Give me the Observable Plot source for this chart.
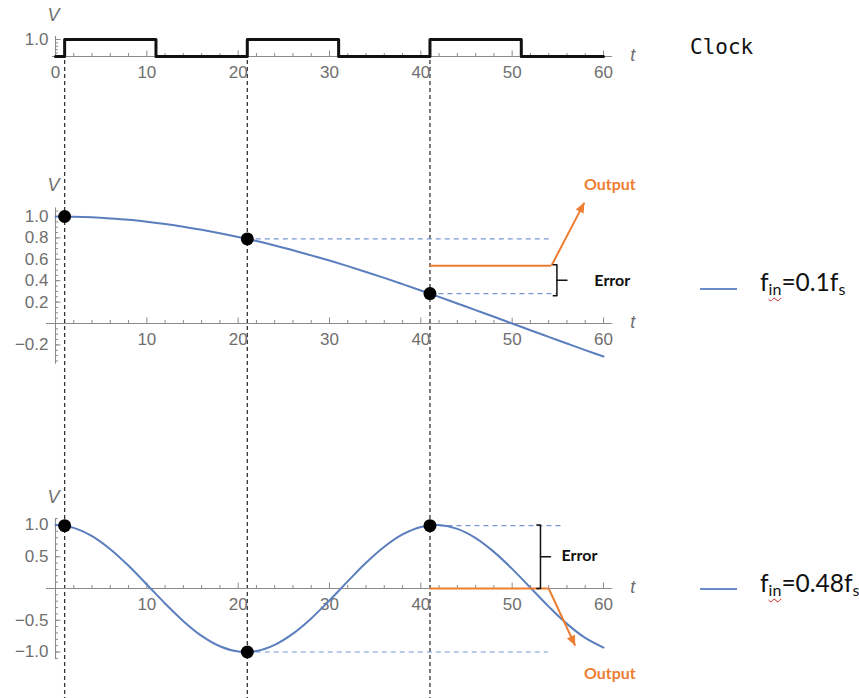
<!DOCTYPE html>
<html>
<head>
<meta charset="utf-8">
<script src="https://cdn.jsdelivr.net/npm/d3@7"></script>
<script src="https://cdn.jsdelivr.net/npm/@observablehq/plot@0.6"></script>
<style>
  body { margin: 0; background: #fff; }
  #chart { position: relative; width: 859px; height: 698px; overflow: hidden; background: #fff; }
  #chart svg { position: absolute; left: 0; top: 0; }
  .clock { position: absolute; left: 690px; top: 37px; font-family: "DejaVu Sans Mono", monospace; font-size: 21px; color: #111; line-height: 1; }
  .legend { position: absolute; left: 700px; width: 160px; height: 30px; }
  .legend .swatch { position: absolute; left: 0; width: 37px; border-top: 2.5px solid #6a8cc8; }
  .legend .label { position: absolute; left: 60px; top: 0; font-family: Lato, "Open Sans", sans-serif; font-size: 24.5px; line-height: 1; color: #111; white-space: nowrap; }
  .legend sub { font-size: 16px; vertical-align: -4px; line-height: 0; }
  .legend sub.sp { text-decoration: underline wavy #d02020; text-decoration-thickness: 1px; text-underline-offset: 2px; }
</style>
</head>
<body>
<div id="chart"></div>
<script>
// ---- data -------------------------------------------------------------
// Clock: level changes (step-after) over time t
const clockTimes  = [0, 1, 11, 21, 31, 41, 51, 60];
const clockLevels = [0, 1, 0, 1, 0, 1, 0, 0];

// Sampling instants (rising clock edges)
const sampleTimes = [1, 21, 41];

// Input waveforms read along t = 0..60
const curveTimes = [0, 2, 4, 6, 8, 10, 12, 14, 16, 18, 20, 22, 24, 26, 28, 30,
                    32, 34, 36, 38, 40, 42, 44, 46, 48, 50, 52, 54, 56, 58, 60];
const slowValues = [1.000, 0.998, 0.992, 0.982, 0.969, 0.951, 0.930, 0.905, 0.876, 0.844, 0.809,
                    0.771, 0.729, 0.685, 0.637, 0.588, 0.536, 0.482, 0.426, 0.368, 0.309,
                    0.249, 0.187, 0.125, 0.063, 0.000, -0.063, -0.125, -0.187, -0.249, -0.309];
const fastValues = [1.000, 0.955, 0.824, 0.618, 0.357, 0.063, -0.237, -0.514, -0.746, -0.910, -0.992,
                    -0.985, -0.888, -0.711, -0.471, -0.187, 0.113, 0.404, 0.657, 0.851, 0.969,
                    0.999, 0.939, 0.794, 0.577, 0.309, 0.012, -0.285, -0.557, -0.778, -0.930];

// Sampled values at the sampling instants
const slowSamples = [1.00, 0.79, 0.28];
const fastSamples = [0.99, -1.00, 0.99];

// Held output after the last sample
const slowOutput = 0.54;
const fastOutput = 0.00;

// Tick labels
const xTickLabels      = [10, 20, 30, 40, 50, 60];
const clockXTickLabels = [0, 10, 20, 30, 40, 50, 60];
const clockYTickLabels = [1.0];
const slowYTickLabels  = [1.0, 0.8, 0.6, 0.4, 0.2, -0.2];
const fastYTickLabels  = [1.0, 0.5, -0.5, -1.0];

// Annotation anchors (data units)
const slowHold   = [{x1: 21, x2: 54.5, y: 0.79}, {x1: 41, x2: 55, y: 0.28}];
const slowArrow  = {x1: 54.3, y1: slowOutput, x2: 57.9, y2: 1.13};
const slowBrace  = {x: 54.9, top: 0.55, bottom: 0.26};
const slowTexts  = {error: {x: 59.0, y: 0.40}, output: {x: 60.7, y: 1.30}};

const fastHold   = [{x1: 41, x2: 55.5, y: 0.99}, {x1: 21, x2: 54, y: -1.00}];
const fastArrow  = {x1: 54, y1: fastOutput, x2: 56.9, y2: -0.90};
const fastBrace  = {x: 53.1, top: 1.00, bottom: 0.00};
const fastTexts  = {error: {x: 55.4, y: 0.52}, output: {x: 60.7, y: -1.34}};

// ---- layout -----------------------------------------------------------
const W = 859, H = 698;
const marginLeft = 55, marginRight = 256;
const xDomain = [0, 60];
const kx = (W - marginLeft - marginRight) / (xDomain[1] - xDomain[0]); // px per unit t

const panels = {
  clock: {axisY: 56,  unitPx: 17,   domain: [-1, 2]},
  slow:  {axisY: 323, unitPx: 107,  domain: [-0.45, 1.35]},
  fast:  {axisY: 588, unitPx: 63.5, domain: [-1.5, 1.5]}
};

const axisColor = "#8c8c8c";
const labelColor = "#6f6f6f";
const curveColor = "#5b7fbe";
const holdColor = "#7a98d4";
const orange = "#ed7d31";
const tickFont = "Liberation Sans, Arial, sans-serif";
const noteFont = "Lato, 'Open Sans', sans-serif";
const fmt = d3.format(".1f");

const series = (xs, ys) => xs.map((x, i) => ({x, y: ys[i]}));

function plotFor(p, marks) {
  const top = p.axisY - p.domain[1] * p.unitPx;
  const bottom = p.axisY - p.domain[0] * p.unitPx;
  return Plot.plot({
    width: W, height: H,
    marginLeft, marginRight,
    marginTop: top, marginBottom: H - bottom,
    x: {domain: xDomain, axis: null},
    y: {domain: p.domain, axis: null},
    style: {background: "transparent", overflow: "visible", fontFamily: tickFont},
    marks
  });
}

// Mathematica-style axes crossing at the origin
function axes(p, o) {
  const ty = px => px / p.unitPx;
  const tx = px => px / kx;
  const xMinor = d3.range(2, 60.5, 2).filter(d => d % 10 !== 0);
  const xMajor = d3.range(10, 60.5, 10);
  const yMinor = d3.range(Math.ceil(o.yFrom / o.yMinorStep), Math.floor(o.yTo / o.yMinorStep) + 1)
                   .map(i => +(i * o.yMinorStep).toFixed(3)).filter(d => d !== 0);
  return [
    Plot.ruleY([0], {x1: o.xFrom, x2: 61, stroke: axisColor, strokeWidth: 1.1}),
    Plot.ruleX([0], {y1: o.yFrom, y2: o.yTo, stroke: axisColor, strokeWidth: 1.1}),
    Plot.ruleX(xMinor, {y1: 0, y2: ty(3), stroke: axisColor}),
    Plot.ruleX(xMajor, {y1: 0, y2: ty(5.5), stroke: axisColor}),
    Plot.ruleY(yMinor, {x1: 0, x2: tx(3), stroke: axisColor}),
    Plot.ruleY(o.yLabels, {x1: 0, x2: tx(5.5), stroke: axisColor}),
    Plot.text(o.xLabels, {x: d => d, y: 0, dy: 16, text: d => String(d), fill: labelColor, fontSize: 17, fontFamily: tickFont}),
    Plot.text(o.yLabels, {x: 0, y: d => d, dx: -7, text: d => fmt(d), textAnchor: "end", fill: labelColor, fontSize: 17, fontFamily: tickFont}),
    Plot.text(["V"], {x: 0, y: o.vAt, dx: -2, fill: labelColor, fontSize: 18, fontStyle: "italic", fontFamily: tickFont}),
    Plot.text(["t"], {x: 63.2, y: 0, dy: -1, fill: labelColor, fontSize: 18, fontStyle: "italic", fontFamily: tickFont})
  ];
}

// Filled arrowhead whose tip sits on the arrow end
function arrowHead(p, a) {
  const dxp = (a.x2 - a.x1) * kx, dyp = -(a.y2 - a.y1) * p.unitPx;
  const len = Math.hypot(dxp, dyp), ux = dxp / len, uy = dyp / len;
  const L = 10, hw = 4.5;
  const head = {draw(ctx) {
    ctx.moveTo(0, 0);
    ctx.lineTo(-ux * L - uy * hw, -uy * L + ux * hw);
    ctx.lineTo(-ux * L + uy * hw, -uy * L - ux * hw);
    ctx.closePath();
  }};
  return [
    Plot.link([a], {x1: "x1", y1: "y1", x2: "x2", y2: "y2", stroke: orange, strokeWidth: 2}),
    Plot.dot([a], {x: "x2", y: "y2", symbol: head, r: 5, fill: orange, stroke: null})
  ];
}

// Bracket spanning the error, with a centre tick pointing right
function brace(b) {
  const mid = (b.top + b.bottom) / 2;
  const body = [{x: b.x - 0.4, y: b.top}, {x: b.x, y: b.top}, {x: b.x, y: b.bottom}, {x: b.x - 0.4, y: b.bottom}];
  const tick = [{x: b.x, y: mid}, {x: b.x + 1.1, y: mid}];
  return [
    Plot.line(body, {x: "x", y: "y", stroke: "#111", strokeWidth: 1.5}),
    Plot.line(tick, {x: "x", y: "y", stroke: "#111", strokeWidth: 1.5})
  ];
}

function note(t, text, color, anchor) {
  return Plot.text([t], {x: "x", y: "y", text: () => text, fill: color, fontWeight: "bold",
    fontSize: 16, fontFamily: noteFont, textAnchor: anchor});
}

const chart = document.getElementById("chart");

// Vertical dashed guides through all panels at each sampling instant
chart.append(Plot.plot({
  width: W, height: H, marginLeft, marginRight, marginTop: 39, marginBottom: 0,
  x: {domain: xDomain, axis: null}, y: {domain: [0, 1], axis: null},
  style: {background: "transparent", overflow: "visible"},
  marks: [Plot.ruleX(sampleTimes, {stroke: "#333", strokeWidth: 1.3, strokeDasharray: "4,3"})]
}));

// Clock
chart.append(plotFor(panels.clock, [
  ...axes(panels.clock, {xFrom: -0.35, yFrom: -0.05, yTo: 1.18, yMinorStep: 0.2,
    xLabels: clockXTickLabels, yLabels: clockYTickLabels, vAt: 2.4}),
  Plot.line(series(clockTimes, clockLevels), {x: "x", y: "y", curve: "step-after", stroke: "#111", strokeWidth: 3})
]));

// f_in = 0.1 f_s
chart.append(plotFor(panels.slow, [
  ...axes(panels.slow, {xFrom: -1, yFrom: -0.38, yTo: 1.08, yMinorStep: 0.05,
    xLabels: xTickLabels, yLabels: slowYTickLabels, vAt: 1.29}),
  Plot.ruleY(slowHold, {x1: "x1", x2: "x2", y: "y", stroke: holdColor, strokeWidth: 1.2, strokeDasharray: "5,4"}),
  Plot.line(series(curveTimes, slowValues), {x: "x", y: "y", curve: "catmull-rom", stroke: curveColor, strokeWidth: 2}),
  Plot.ruleY([slowOutput], {x1: sampleTimes[2], x2: slowArrow.x1, stroke: orange, strokeWidth: 2}),
  ...arrowHead(panels.slow, slowArrow),
  ...brace(slowBrace),
  note(slowTexts.error, "Error", "#111", "start"),
  note(slowTexts.output, "Output", orange, "middle"),
  Plot.dot(series(sampleTimes, slowSamples), {x: "x", y: "y", r: 6.5, fill: "#000"})
]));

// f_in = 0.48 f_s
chart.append(plotFor(panels.fast, [
  ...axes(panels.fast, {xFrom: -1, yFrom: -1.12, yTo: 1.1, yMinorStep: 0.1,
    xLabels: xTickLabels, yLabels: fastYTickLabels, vAt: 1.43}),
  Plot.ruleY(fastHold, {x1: "x1", x2: "x2", y: "y", stroke: holdColor, strokeWidth: 1.2, strokeDasharray: "5,4"}),
  Plot.line(series(curveTimes, fastValues), {x: "x", y: "y", curve: "catmull-rom", stroke: curveColor, strokeWidth: 2}),
  Plot.ruleY([fastOutput], {x1: sampleTimes[2], x2: fastArrow.x1, stroke: orange, strokeWidth: 2}),
  ...arrowHead(panels.fast, fastArrow),
  ...brace(fastBrace),
  note(fastTexts.error, "Error", "#111", "start"),
  note(fastTexts.output, "Output", orange, "middle"),
  Plot.dot(series(sampleTimes, fastSamples), {x: "x", y: "y", r: 6.5, fill: "#000"})
]));

// Labels on the right
const clockLabel = document.createElement("div");
clockLabel.className = "clock";
clockLabel.textContent = "Clock";
chart.append(clockLabel);

function legendItem(top, lineTop, ratio) {
  const item = document.createElement("div");
  item.className = "legend";
  item.style.top = top + "px";
  item.innerHTML = `<div class="swatch" style="top:${lineTop}px"></div>` +
    `<div class="label">f<sub class="sp">in</sub>=${ratio}f<sub>s</sub></div>`;
  chart.append(item);
}
legendItem(270, 18, "0.1");
legendItem(571, 17, "0.48");
</script>
</body>
</html>
